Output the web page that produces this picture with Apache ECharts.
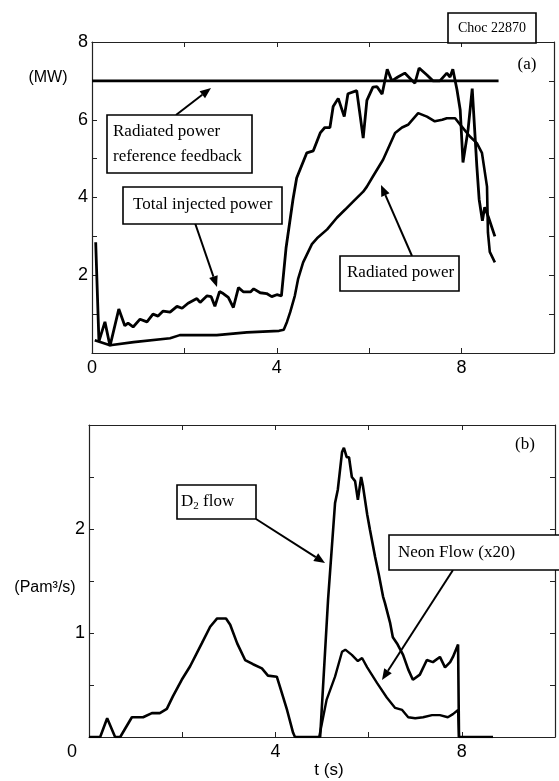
<!DOCTYPE html>
<html><head><meta charset="utf-8">
<script src="https://cdn.jsdelivr.net/npm/echarts@6/dist/echarts.min.js"></script>
<style>html,body{margin:0;padding:0;background:#fff}#c{width:559px;height:781px}</style>
</head><body><div id="c"></div>
<script>
// ---- Data ----
// Panel (a): power in MW vs time in s
const refT = [0, 8.8];
const refP = [7, 7];
const injT = [0.08,0.15,0.28,0.39,0.58,0.71,0.78,0.89,1.04,1.19,1.32,1.43,1.54,1.69,1.84,1.95,2.08,2.27,2.34,2.49,2.58,2.66,2.76,2.84,2.95,3.06,3.17,3.28,3.43,3.5,3.64,3.78,3.89,4.0,4.1,4.2,4.35,4.43,4.65,4.79,4.94,5.04,5.15,5.22,5.33,5.46,5.54,5.73,5.76,5.87,5.95,6.08,6.17,6.28,6.39,6.49,6.62,6.77,6.88,6.99,7.08,7.25,7.38,7.53,7.68,7.75,7.81,7.9,7.97,8.03,8.14,8.23,8.33,8.38,8.45,8.5,8.58,8.72];
const injP = [2.85,0.3,0.8,0.18,1.13,0.7,0.77,0.67,0.87,0.8,1.0,0.95,1.08,1.05,1.2,1.15,1.28,1.4,1.3,1.47,1.45,1.2,1.58,1.53,1.43,1.17,1.68,1.57,1.57,1.65,1.55,1.53,1.45,1.5,1.47,2.7,3.95,4.5,5.15,5.2,5.66,5.8,5.8,6.34,6.55,6.08,6.67,6.75,6.77,5.53,6.5,6.84,6.85,6.66,7.3,7.0,7.1,7.2,7.07,6.94,7.33,7.15,7.0,7.0,7.2,7.1,7.3,6.77,6.25,4.9,5.74,6.8,4.8,3.95,3.4,3.75,3.5,3.0];
const radT = [0.06,0.39,0.9,1.69,1.9,2.7,3.35,4.05,4.15,4.22,4.29,4.39,4.46,4.57,4.76,4.87,5.09,5.3,5.48,5.63,5.87,5.95,6.08,6.3,6.56,6.71,6.84,7.06,7.25,7.42,7.58,7.68,7.86,8.0,8.18,8.33,8.44,8.55,8.57,8.61,8.72];
const radP = [0.33,0.2,0.28,0.38,0.46,0.46,0.53,0.57,0.6,0.8,1.05,1.47,1.9,2.33,2.8,2.95,3.18,3.48,3.69,3.87,4.15,4.28,4.54,4.97,5.66,5.8,5.87,6.17,6.08,5.96,6.0,6.04,6.04,5.83,5.57,5.4,5.15,4.28,3.1,2.6,2.33];
// Panel (b): flow in Pa m3/s vs time in s
const d2T = [0,0.24,0.39,0.56,0.67,0.92,1.16,1.35,1.52,1.67,1.8,1.99,2.17,2.42,2.6,2.75,2.94,3.03,3.18,3.35,3.52,3.71,3.84,4.03,4.1,4.25,4.38,4.42,4.96,5.13,5.28,5.34,5.43,5.47,5.53,5.58,5.64,5.71,5.77,5.84,5.88,5.97,6.03,6.14,6.22,6.31,6.35,6.46,6.52,6.61,6.74,6.85,6.95,7.1,7.25,7.38,7.53,7.64,7.75,7.81,7.92,7.94,8.67];
const d2F = [0,0,0.18,0,0,0.19,0.19,0.23,0.23,0.27,0.39,0.55,0.68,0.9,1.06,1.14,1.14,1.08,0.9,0.74,0.7,0.66,0.59,0.58,0.48,0.26,0.04,0,0,1.32,2.25,2.38,2.74,2.78,2.69,2.69,2.5,2.46,2.28,2.5,2.41,2.14,1.99,1.73,1.56,1.35,1.29,1.1,0.96,0.9,0.79,0.65,0.55,0.6,0.74,0.72,0.77,0.67,0.72,0.77,0.89,0,0];
const neT = [4.94,5.1,5.28,5.43,5.5,5.64,5.77,5.86,5.97,6.18,6.39,6.57,6.72,6.85,7.0,7.17,7.36,7.53,7.7,7.81,7.92,7.94];
const neF = [0,0.36,0.58,0.82,0.84,0.79,0.73,0.76,0.67,0.52,0.38,0.28,0.26,0.19,0.18,0.19,0.21,0.21,0.19,0.22,0.26,0];
// Tick labels shown
const xLabelsA = [0, 4, 8];
const yLabelsA = [2, 4, 6, 8];
const xLabelsB = [0, 4, 8];
const yLabelsB = [1, 2];

const zip = (a, b) => a.map((v, i) => [v, b[i]]);
const SANS = '"Liberation Sans", Arial, sans-serif';
const SERIF = '"Liberation Serif", "Times New Roman", serif';
const AX = '#222';

function xAx(grid, pos, labels, zeroShift) {
  return {
    type: 'value', gridIndex: grid, position: pos, min: 0, max: 10, interval: 2,
    axisLine: { show: true, onZero: false, lineStyle: { color: AX, width: 1.2 } },
    axisTick: { show: true, inside: true, length: 5, lineStyle: { color: AX } },
    splitLine: { show: false },
    axisLabel: labels ? {
      show: true, margin: 6, color: '#000', fontFamily: SANS, fontSize: 18,
      showMaxLabel: true, showMinLabel: true,
      formatter: v => labels.includes(v) ? (v === 0 && zeroShift ? '{z|0}' : String(v)) : '',
      rich: { z: { fontFamily: SANS, fontSize: 18, color: '#000', padding: [0, zeroShift || 0, 0, 0] } }
    } : { show: false }
  };
}
function yAx(grid, pos, max, interval, labels) {
  return {
    type: 'value', gridIndex: grid, position: pos, min: 0, max: max, interval: interval,
    axisLine: { show: true, onZero: false, lineStyle: { color: AX, width: 1.2 } },
    axisTick: { show: true, inside: true, length: 5, lineStyle: { color: AX } },
    splitLine: { show: false },
    axisLabel: labels ? {
      show: true, margin: 4, color: '#000', fontFamily: SANS, fontSize: 18,
      showMaxLabel: true, showMinLabel: true,
      formatter: v => labels.includes(v) ? String(v) : ''
    } : { show: false }
  };
}

function arrow(x1, y1, x2, y2) {
  const a = Math.atan2(y2 - y1, x2 - x1), L = 11, W = 4.5;
  const bx = x2 - L * Math.cos(a), by = y2 - L * Math.sin(a);
  const px = -Math.sin(a) * W, py = Math.cos(a) * W;
  return [
    { type: 'line', shape: { x1, y1, x2: bx, y2: by }, style: { stroke: '#000', lineWidth: 2 }, z: 50 },
    { type: 'polygon', shape: { points: [[x2, y2], [bx + px, by + py], [bx - px, by - py]] }, style: { fill: '#000' }, z: 50 }
  ];
}
function box(x, y, w, h) {
  return { type: 'rect', shape: { x, y, width: w, height: h }, style: { fill: '#fff', stroke: '#000', lineWidth: 1.6 }, z: 60 };
}
function txt(x, y, text, size, extra) {
  return Object.assign({ type: 'text', x, y, z: 61,
    style: { text, fill: '#000', font: size + 'px ' + SERIF, textVerticalAlign: 'middle' } }, extra || {});
}

const line = (data, xi, yi, w) => ({
  type: 'line', data, xAxisIndex: xi, yAxisIndex: yi, showSymbol: false, symbol: 'none',
  lineStyle: { color: '#000', width: w || 2.6 }, animation: false, clip: true
});

const option = {
  animation: false,
  backgroundColor: '#fff',
  grid: [
    { left: 92, right: 5, top: 42, height: 311 },
    { left: 89, right: 4, top: 425, height: 312 }
  ],
  xAxis: [xAx(0, 'bottom', xLabelsA), xAx(0, 'top', null), xAx(1, 'bottom', xLabelsB, 34), xAx(1, 'top', null)],
  yAxis: [yAx(0, 'left', 8, 1, yLabelsA), yAx(0, 'right', 8, 1, null), yAx(1, 'left', 3, 0.5, yLabelsB), yAx(1, 'right', 3, 0.5, null)],
  series: [
    line(zip(refT, refP), 0, 0, 2.6),
    line(zip(injT, injP), 0, 0, 2.8),
    line(zip(radT, radP), 0, 0, 2.6),
    line(zip(d2T, d2F), 2, 2, 2.6),
    line(zip(neT, neF), 2, 2, 2.4)
  ],
  graphic: [].concat(
    [
      txt(48, 78, '(MW)', 16, { style: { text: '(MW)', fill: '#000', font: '16px ' + SANS, textAlign: 'center', textVerticalAlign: 'middle' } }),
      txt(45, 588, '(Pam³/s)', 16, { style: { text: '(Pam³/s)', fill: '#000', font: '16px ' + SANS, textAlign: 'center', textVerticalAlign: 'middle' } }),
      txt(329, 770, 't (s)', 17, { style: { text: 't (s)', fill: '#000', font: '17px ' + SANS, textAlign: 'center', textVerticalAlign: 'middle' } }),
      box(448, 13, 88, 30),
      txt(492, 28, 'Choc 22870', 14, { style: { text: 'Choc 22870', fill: '#000', font: '14px ' + SERIF, textAlign: 'center', textVerticalAlign: 'middle' } }),
      txt(527, 65, '(a)', 17, { style: { text: '(a)', fill: '#000', font: '17px ' + SERIF, textAlign: 'center', textVerticalAlign: 'middle' } }),
      txt(525, 445, '(b)', 17, { style: { text: '(b)', fill: '#000', font: '17px ' + SERIF, textAlign: 'center', textVerticalAlign: 'middle' } })
    ],
    arrow(176, 115, 211, 88),
    [box(107, 115, 145, 58), txt(113, 132, 'Radiated power', 17), txt(113, 157, 'reference feedback', 17)],
    arrow(195, 223, 217, 287),
    [box(123, 187, 159, 37), txt(133, 205, 'Total injected power', 17)],
    arrow(412, 256, 381, 185),
    [box(340, 256, 119, 35), txt(347, 273, 'Radiated power', 17)],
    arrow(256, 519, 325, 563),
    [box(177, 485, 79, 34), {
      type: 'text', x: 181, y: 502, z: 61,
      style: { text: '{a|D}{s|2}{a| flow}', textVerticalAlign: 'middle',
        rich: { a: { fontFamily: SERIF, fontSize: 17, fill: '#000', color: '#000' },
                s: { fontFamily: SERIF, fontSize: 11, fill: '#000', color: '#000', verticalAlign: 'bottom', padding: [8, 0, 0, 0] } } }
    }],
    arrow(453, 570, 382, 680),
    [box(389, 535, 176, 35), txt(398, 553, 'Neon Flow (x20)', 17)]
  )
};
const chart = echarts.init(document.getElementById('c'), null, { renderer: 'canvas' });
chart.setOption(option);
</script></body></html>
